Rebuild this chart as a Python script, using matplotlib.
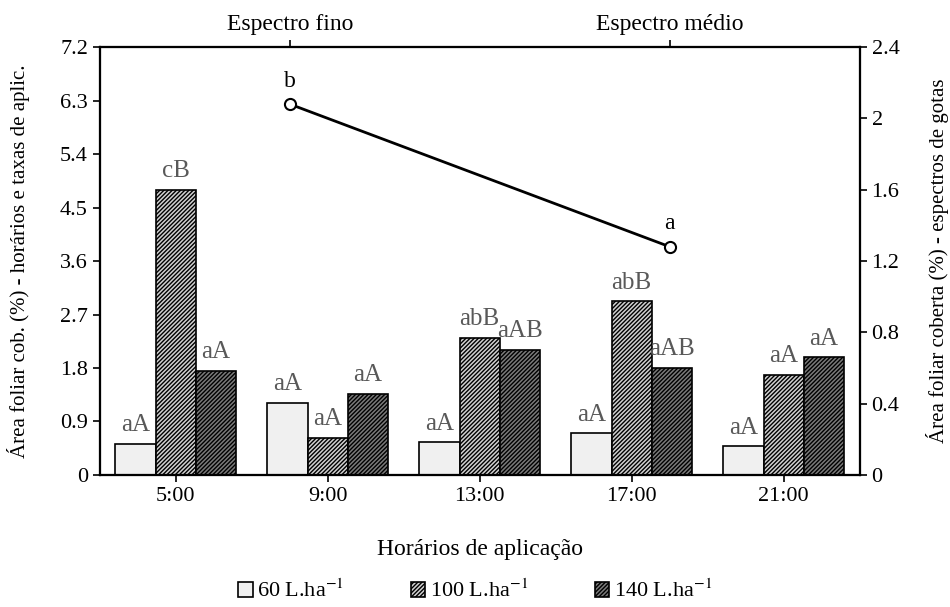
import matplotlib
matplotlib.use("Agg")
import matplotlib.pyplot as plt
import numpy as np

plt.rcParams['font.family'] = ['Liberation Serif', 'DejaVu Serif']
plt.rcParams['mathtext.fontset'] = 'stix'
plt.rcParams['hatch.linewidth'] = 1.0

horarios = ['5:00', '9:00', '13:00', '17:00', '21:00']
taxa_60 = [0.52, 1.21, 0.55, 0.70, 0.48]
taxa_100 = [4.80, 0.62, 2.31, 2.92, 1.68]
taxa_140 = [1.75, 1.37, 2.10, 1.80, 1.98]
letras_60 = ['aA', 'aA', 'aA', 'aA', 'aA']
letras_100 = ['cB', 'aA', 'abB', 'abB', 'aA']
letras_140 = ['aA', 'aA', 'aAB', 'aAB', 'aA']

espectros = ['Espectro fino', 'Espectro médio']
cobertura_espectro = [2.08, 1.28]
letras_espectro = ['b', 'a']

fig = plt.figure(figsize=(9.5, 6.07), dpi=100)
ax = fig.add_axes([0.105, 0.2175, 0.80, 0.705])

x = np.arange(len(horarios))
w = 0.265
b1 = ax.bar(x - w, taxa_60, w, facecolor='#f0f0f0', edgecolor='black', lw=1.2,
            label='60 L.ha$^{-1}$')
b2 = ax.bar(x, taxa_100, w, facecolor='#d0d0d0', edgecolor='black', lw=1.2,
            hatch='////////', label='100 L.ha$^{-1}$')
b3 = ax.bar(x + w, taxa_140, w, facecolor='#7a7a7a', edgecolor='black', lw=1.2,
            hatch='////////', label='140 L.ha$^{-1}$')

for bars, vals, letras in [(b1, taxa_60, letras_60), (b2, taxa_100, letras_100),
                           (b3, taxa_140, letras_140)]:
    for rect, v, t in zip(bars, vals, letras):
        ax.text(rect.get_x() + rect.get_width() / 2, v + 0.13, t, ha='center',
                va='bottom', fontsize=18, color='#595959')

ax.set_xlim(-0.5, len(horarios) - 0.5)
ax.set_ylim(0, 7.2)
ax.set_yticks(np.arange(0, 7.21, 0.9))
ax.set_yticklabels(['0'] + ['%.1f' % v for v in np.arange(0.9, 7.21, 0.9)])
ax.set_xticks(x)
ax.set_xticklabels(horarios)
ax.tick_params(labelsize=16, width=1.2, length=5)
ax.set_ylabel('Área foliar cob. (%) - horários e taxas de aplic.', fontsize=15,
              labelpad=22)
ax.set_xlabel('Horários de aplicação', fontsize=17, labelpad=24)
for s in ax.spines.values():
    s.set_linewidth(1.5)

ax2 = ax.twinx()
ax3 = ax2.twiny()
ax2.set_ylim(0, 2.4)
ax2.set_yticks(np.arange(0, 2.41, 0.4))
ax2.set_yticklabels(['0', '0.4', '0.8', '1.2', '1.6', '2', '2.4'])
ax2.tick_params(labelsize=16, width=1.2, length=5)
ax2.set_ylabel('Área foliar coberta (%) - espectros de gotas', fontsize=15,
               labelpad=19)

xe = np.arange(len(espectros))
ax3.set_xlim(-0.5, len(espectros) - 0.5)
ax3.plot(xe, cobertura_espectro, color='black', lw=2, marker='o', ms=8,
         mfc='white', mec='black', mew=1.5)
for xi, v, t in zip(xe, cobertura_espectro, letras_espectro):
    ax3.text(xi, v + 0.07, t, ha='center', va='bottom', fontsize=17)
ax3.set_xticks(xe)
ax3.set_xticklabels(espectros)
ax3.tick_params(labelsize=17, width=1.2, length=5)
for a in (ax2, ax3):
    for s in a.spines.values():
        s.set_linewidth(1.5)

fig.legend(handles=[b1, b2, b3], loc='lower center', bbox_to_anchor=(0.5, -0.014),
           ncol=3, frameon=False, fontsize=16, handlelength=0.65, handleheight=0.65,
           handletextpad=0.2, columnspacing=3.0, borderpad=0.1)

fig.savefig('out.png', dpi=100)
